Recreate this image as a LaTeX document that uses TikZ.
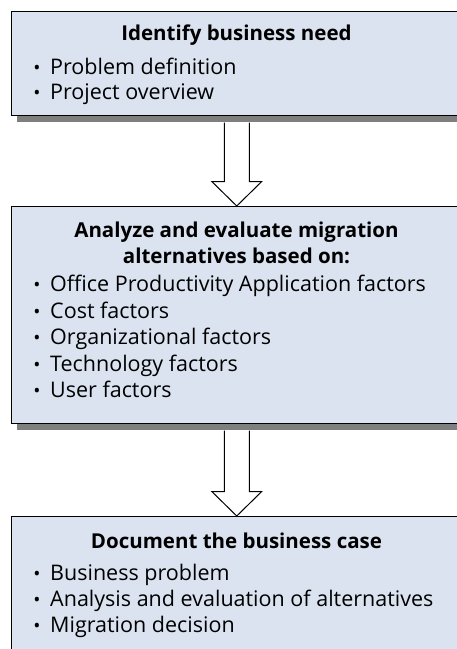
\documentclass[tikz,border=0pt]{standalone}
\usepackage{fontspec}
\setmainfont{Open Sans}
\usetikzlibrary{calc,shadows}
\definecolor{boxfill}{HTML}{DAE3EF}
\definecolor{shadowgray}{HTML}{7F7F7F}
\begin{document}
\begin{tikzpicture}[x=1pt,y=-1pt,
  box/.style={draw=black,line width=1pt,fill=boxfill,rectangle,anchor=north west,
    inner sep=0pt,minimum width=451.5,
    drop shadow={shadow xshift=5.5pt,shadow yshift=-6.5pt,fill=shadowgray,opacity=1}},
  title/.style={anchor=base,inner sep=0pt,font=\fontsize{20.5}{24}\selectfont\bfseries},
  itemtext/.style={anchor=base west,inner sep=0pt,font=\fontsize{21.5}{24}\selectfont},
  bul/.style={anchor=base,inner sep=0pt,font=\fontsize{19}{24}\selectfont},
  blockarrow/.style={draw=black,line width=1pt,fill=white,line join=miter}]
\useasboundingbox (0,0) rectangle (457,649);
\clip (0,0) rectangle (457,649);

% the three stage boxes
\node[box,minimum height=104.5] (b1) at (10.5,10.5) {};
\node[box,minimum height=217] (b2) at (10.5,206) {};
\node[box,minimum height=160] (b3) at (10.5,516) {};

% hollow arrows between the stages
\foreach \a/\b in {b1/b2,b2/b3}{
  \draw[blockarrow]
    ($(\a.south)+(-12.5,6.5)$) -- ($(\b.north)+(-12.5,-24.5)$)
    -- ($(\b.north)+(-25,-24.5)$) -- (\b.north)
    -- ($(\b.north)+(25,-24.5)$) -- ($(\b.north)+(12.5,-24.5)$)
    -- ($(\a.south)+(12.5,6.5)$);
}

% stage 1
\node[title] (t1) at (236.5,40) {Identify business need};
\foreach \n/\y/\s in {i1a/74/Problem definition,i1b/99/Project overview}{
  \node[bul] (\n d) at (37,\y) {•};
  \node[itemtext] (\n) at (50,\y) {\s};
}

% stage 2
\node[title] (t2a) at (236.5,237) {Analyze and evaluate migration};
\node[title] (t2b) at (236.5,263) {alternatives based on:};
\foreach \n/\y/\s in {i2a/291/Office Productivity Application factors,
  i2b/318/Cost factors,i2c/344/Organizational factors,
  i2d/371/Technology factors,i2e/397/User factors}{
  \node[bul] (\n d) at (37,\y) {•};
  \node[itemtext] (\n) at (50,\y) {\s};
}

% stage 3
\node[title] (t3) at (236.5,548) {Document the business case};
\foreach \n/\y/\s in {i3a/580/Business problem,
  i3b/606/Analysis and evaluation of alternatives,i3c/632/Migration decision}{
  \node[bul] (\n d) at (37,\y) {•};
  \node[itemtext] (\n) at (50,\y) {\s};
}
\end{tikzpicture}
\end{document}
